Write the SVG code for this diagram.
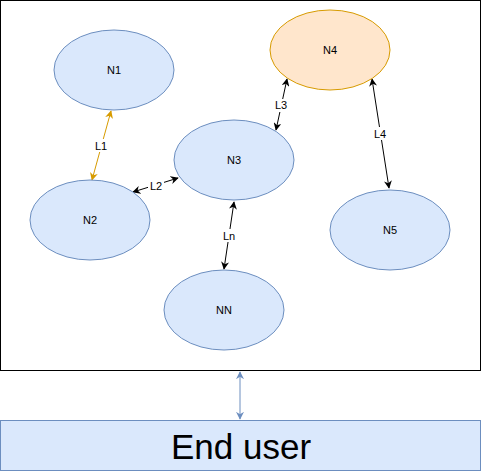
<svg xmlns="http://www.w3.org/2000/svg" width="481" height="471" viewBox="0 0 481 471">
  <defs>
    <marker id="arrow-black" viewBox="0 0 10 10" refX="9" refY="5" markerWidth="8" markerHeight="8" markerUnits="userSpaceOnUse" orient="auto-start-reverse">
      <path d="M0,0 L10,5 L0,10 L3,5 Z" fill="#000"/>
    </marker>
    <marker id="arrow-orange" viewBox="0 0 10 10" refX="9" refY="5" markerWidth="8" markerHeight="8" markerUnits="userSpaceOnUse" orient="auto-start-reverse">
      <path d="M0,0 L10,5 L0,10 L3,5 Z" fill="#d79b00"/>
    </marker>
    <marker id="arrow-blue" viewBox="0 0 10 10" refX="9" refY="5" markerWidth="8" markerHeight="8" markerUnits="userSpaceOnUse" orient="auto-start-reverse">
      <path d="M0,0 L10,5 L0,10 L3,5 Z" fill="#6c8ebf"/>
    </marker>
  </defs>
  <style>
    .node { fill: #dae8fc; stroke: #6c8ebf; stroke-width: 1; }
    .hot { fill: #ffe6cc; stroke: #d79b00; stroke-width: 1; }
    .lbl { font-family: "Liberation Sans", Arial, sans-serif; font-size: 11px; fill: #000; text-anchor: middle; dominant-baseline: central; }
    .edge { fill: none; stroke: #000; stroke-width: 1; marker-start: url(#arrow-black); marker-end: url(#arrow-black); }
    .edge-o { fill: none; stroke: #d79b00; stroke-width: 1; marker-start: url(#arrow-orange); marker-end: url(#arrow-orange); }
    .bg { fill: #fff; }
  </style>

  <!-- system boundary -->
  <rect id="system" x="0.5" y="0.5" width="480" height="370" fill="#fff" stroke="#000" stroke-width="1"/>

  <g id="connectors">
    <line class="edge-o" x1="111" y1="111" x2="92" y2="180"/>
    <rect class="bg" x="93" y="139" width="16" height="13"/>
    <text class="lbl" x="101" y="145.5">L1</text>

    <line class="edge" x1="133" y1="192" x2="178" y2="178"/>
    <rect class="bg" x="148" y="179" width="16" height="13"/>
    <text class="lbl" x="156" y="185.5">L2</text>

    <line class="edge" x1="287" y1="79" x2="276" y2="130"/>
    <rect class="bg" x="273" y="99" width="16" height="13"/>
    <text class="lbl" x="281" y="105">L3</text>

    <line class="edge" x1="372" y1="79" x2="389" y2="188"/>
    <rect class="bg" x="372" y="127" width="16" height="13"/>
    <text class="lbl" x="380" y="133.5">L4</text>

    <line class="edge" x1="234" y1="202" x2="224" y2="269"/>
    <rect class="bg" x="221" y="229" width="16" height="13"/>
    <text class="lbl" x="229" y="235.5">Ln</text>

    <line x1="240" y1="372" x2="240" y2="419" stroke="#6c8ebf" stroke-width="1" marker-start="url(#arrow-blue)" marker-end="url(#arrow-blue)"/>
  </g>

  <g id="N1">
    <ellipse class="node" cx="114" cy="70" rx="60" ry="40"/>
    <text class="lbl" x="114" y="70">N1</text>
  </g>
  <g id="N2">
    <ellipse class="node" cx="90" cy="220" rx="60" ry="40"/>
    <text class="lbl" x="90" y="220">N2</text>
  </g>
  <g id="N3">
    <ellipse class="node" cx="234" cy="160" rx="60" ry="40"/>
    <text class="lbl" x="234" y="160">N3</text>
  </g>
  <g id="N4">
    <ellipse class="hot" cx="330" cy="50" rx="60" ry="40"/>
    <text class="lbl" x="330" y="50">N4</text>
  </g>
  <g id="N5">
    <ellipse class="node" cx="390" cy="230" rx="60" ry="40"/>
    <text class="lbl" x="390" y="230">N5</text>
  </g>
  <g id="NN">
    <ellipse class="node" cx="224" cy="310" rx="60" ry="40"/>
    <text class="lbl" x="224" y="310">NN</text>
  </g>

  <g id="end-user">
    <rect x="0.5" y="420.5" width="480" height="50" fill="#dae8fc" stroke="#6c8ebf" stroke-width="1"/>
    <text x="241" y="446" font-family="'Liberation Sans', Arial, sans-serif" font-size="35" text-anchor="middle" dominant-baseline="central" fill="#000">End user</text>
  </g>
</svg>
